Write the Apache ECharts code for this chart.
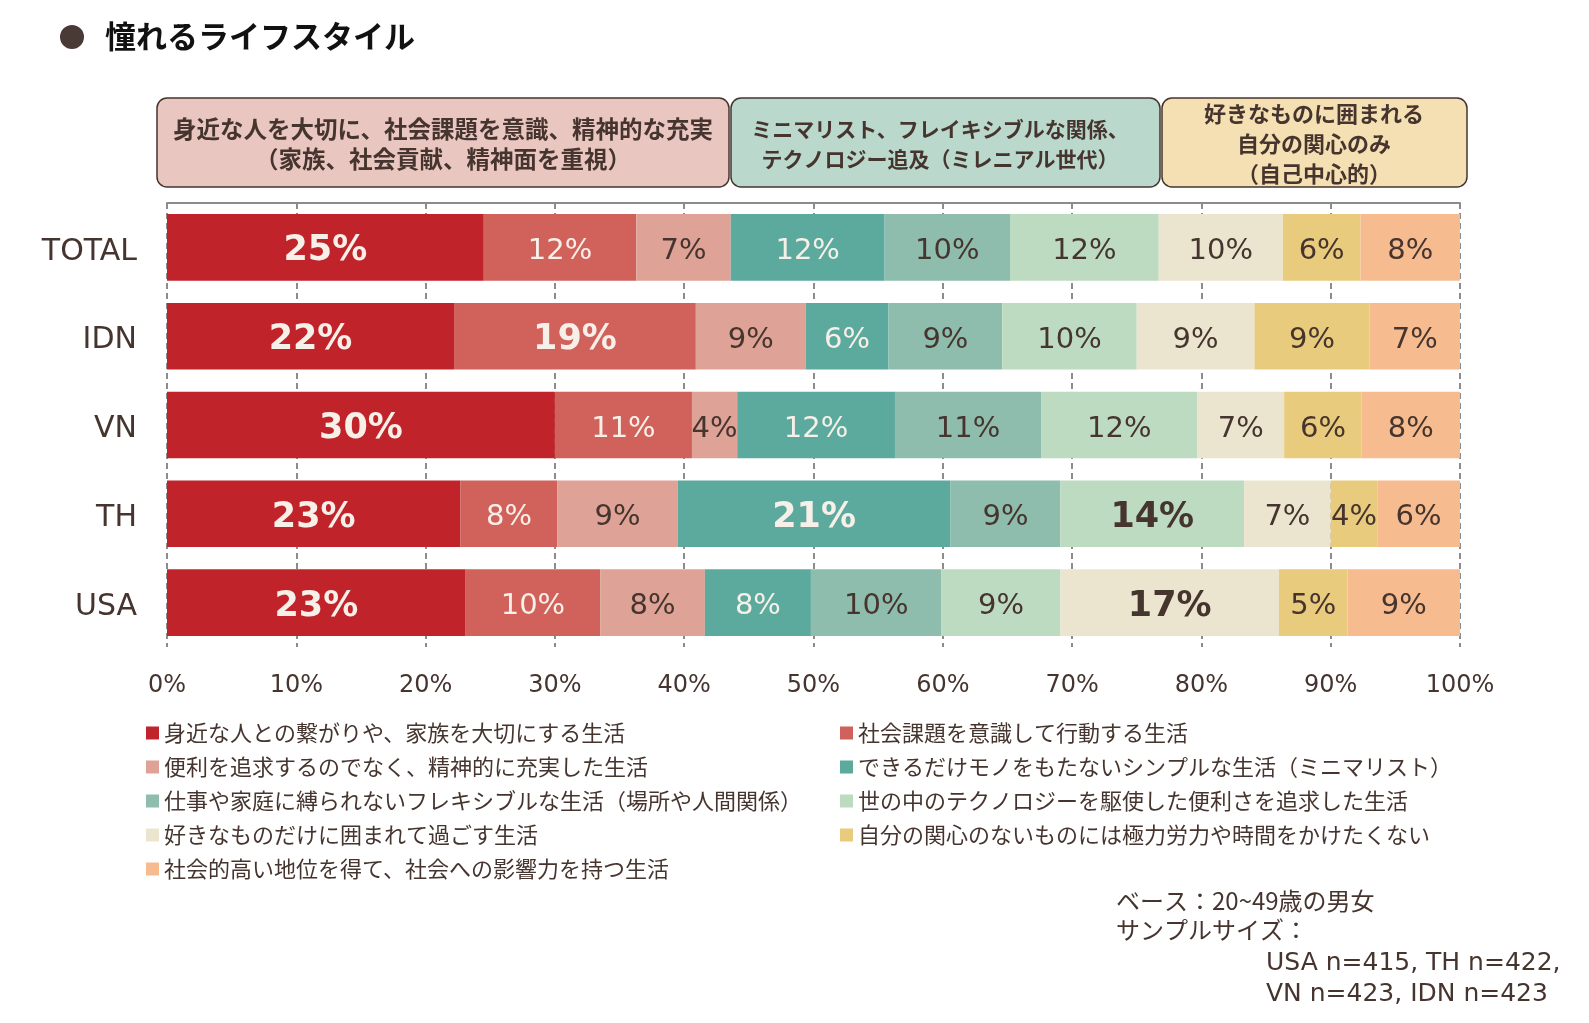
<!DOCTYPE html>
<html>
<head>
<meta charset="utf-8">
<script src="https://cdn.jsdelivr.net/npm/echarts@6/dist/echarts.min.js"></script>
<style>
  html, body { margin: 0; padding: 0; background: #fff; }
  #chart { width: 1589px; height: 1023px; }
</style>
</head>
<body>
<div id="chart"></div>
<script>
const categories = ["TOTAL", "IDN", "VN", "TH", "USA"];

const seriesNames = [
  "身近な人との繋がりや、家族を大切にする生活",
  "社会課題を意識して行動する生活",
  "便利を追求するのでなく、精神的に充実した生活",
  "できるだけモノをもたないシンプルな生活（ミニマリスト）",
  "仕事や家庭に縛られないフレキシブルな生活（場所や人間関係）",
  "世の中のテクノロジーを駆使した便利さを追求した生活",
  "好きなものだけに囲まれて過ごす生活",
  "自分の関心のないものには極力労力や時間をかけたくない",
  "社会的高い地位を得て、社会への影響力を持つ生活",
];

// values per series, in category order (TOTAL, IDN, VN, TH, USA)
const family = [24.5, 22.2, 30.0, 22.7, 23.1];
const socialIssues = [11.8, 18.7, 10.6, 7.5, 10.4];
const spiritual = [7.3, 8.5, 3.5, 9.3, 8.1];
const minimalist = [11.9, 6.4, 12.2, 21.1, 8.2];
const flexible = [9.7, 8.8, 11.3, 8.5, 10.1];
const technology = [11.5, 10.4, 12.1, 14.2, 9.2];
const favorites = [9.6, 9.1, 6.7, 6.7, 16.9];
const noEffort = [6.0, 8.9, 6.0, 3.6, 5.3];
const status = [7.7, 7.0, 7.6, 6.4, 8.7];

const allValues = [family, socialIssues, spiritual, minimalist, flexible, technology, favorites, noEffort, status];

const xTicks = [0, 10, 20, 30, 40, 50, 60, 70, 80, 90, 100];

const colors = ["#c0232a", "#d0615b", "#dea396", "#5ca99d", "#8ebcad", "#bddbc0", "#ebe5cf", "#e9cb7d", "#f6bc8f"];
const lightText = [true, true, false, true, false, false, false, false, false];

const DARK = "#46352f";
const LIGHT = "#f7f0e8";
const LATIN = "'DejaVu Sans', 'Noto Sans CJK JP', sans-serif";
const JP = "'Noto Sans CJK JP', sans-serif";

const chart = echarts.init(document.getElementById("chart"));

const series = allValues.map((vals, i) => ({
  name: seriesNames[i],
  type: "bar",
  stack: "total",
  barCategoryGap: "25%",
  itemStyle: { color: colors[i] },
  data: vals.map((v) => ({
    value: v,
    label: v >= 14 ? { fontWeight: "bold", fontSize: 35 } : {},
  })),
  label: {
    show: true,
    position: "inside",
    offset: [0, 4],
    formatter: (p) => Math.round(p.value) + "%",
    fontFamily: LATIN,
    fontSize: 29,
    color: lightText[i] ? LIGHT : DARK,
  },
}));

const leftLegend = seriesNames.filter((_, i) => i % 2 === 0);
const rightLegend = seriesNames.filter((_, i) => i % 2 === 1);

const legendBase = {
  orient: "vertical",
  icon: "rect",
  itemWidth: 13,
  itemHeight: 13,
  itemGap: 10,
  selectedMode: false,
  textStyle: { fontFamily: JP, fontSize: 22, lineHeight: 24, color: DARK },
};

const boxText = { fontFamily: JP, fontWeight: "bold", lineHeight: 30, fill: DARK, align: "center", verticalAlign: "middle" };

const option = {
  animation: false,
  backgroundColor: "#fff",
  title: {
    text: "憧れるライフスタイル",
    left: 100,
    top: 16,
    textStyle: { fontFamily: JP, fontWeight: "bold", fontSize: 31, color: "#111" },
  },
  grid: { left: 167, right: 129, top: 203, height: 444 },
  xAxis: [
    {
      type: "value",
      min: 0,
      max: 100,
      interval: 10,
      axisLine: { show: false },
      axisTick: { show: false },
      axisLabel: {
        margin: 27,
        formatter: (v) => (xTicks.includes(v) ? v + "%" : ""),
        fontFamily: LATIN,
        fontSize: 24,
        color: DARK,
      },
      splitLine: { show: true, lineStyle: { color: "#8c8c8c", width: 2, type: [6, 4] } },
    },
    {
      type: "value",
      position: "top",
      min: 0,
      max: 100,
      axisLine: { show: true, lineStyle: { color: "#8c8c8c", width: 2 } },
      axisTick: { show: false },
      axisLabel: { show: false },
      splitLine: { show: false },
    },
  ],
  yAxis: {
    type: "category",
    data: categories,
    inverse: true,
    axisLine: { show: false },
    axisTick: { show: false },
    axisLabel: {
      margin: 30,
      formatter: (v) => "{c|" + v + "}",
      rich: { c: { fontFamily: LATIN, fontSize: 30, color: DARK, padding: [9, 0, 0, 0] } },
      fontFamily: LATIN,
      fontSize: 30,
      color: DARK,
    },
  },
  legend: [
    Object.assign({ left: 141, top: 716, data: leftLegend }, legendBase),
    Object.assign({ left: 835, top: 716, data: rightLegend }, legendBase),
  ],
  graphic: [
    { type: "circle", shape: { cx: 72, cy: 37, r: 12 }, style: { fill: "#4a3a35" } },
    {
      type: "rect",
      shape: { x: 157, y: 98, width: 572, height: 89, r: 10 },
      style: { fill: "#e9c6bf", stroke: DARK, lineWidth: 1.5 },
    },
    {
      type: "rect",
      shape: { x: 731, y: 98, width: 429, height: 89, r: 10 },
      style: { fill: "#bad8cc", stroke: DARK, lineWidth: 1.5 },
    },
    {
      type: "rect",
      shape: { x: 1162, y: 98, width: 305, height: 89, r: 10 },
      style: { fill: "#f4e0b2", stroke: DARK, lineWidth: 1.5 },
    },
    {
      type: "text",
      x: 443,
      y: 144,
      style: Object.assign({ text: "身近な人を大切に、社会課題を意識、精神的な充実\n（家族、社会貢献、精神面を重視）", fontSize: 23.5 }, boxText),
    },
    {
      type: "text",
      x: 940,
      y: 144,
      style: Object.assign({ text: "ミニマリスト、フレイキシブルな関係、\nテクノロジー追及（ミレニアル世代）", fontSize: 21 }, boxText),
    },
    {
      type: "text",
      x: 1314,
      y: 144,
      style: Object.assign({ text: "好きなものに囲まれる\n自分の関心のみ\n（自己中心的）", fontSize: 22 }, boxText),
    },
    {
      type: "text",
      x: 1116,
      y: 886,
      style: { text: "ベース：20~49歳の男女\nサンプルサイズ：", fontFamily: JP, fontSize: 24, lineHeight: 29, fill: DARK },
    },
    {
      type: "text",
      x: 1266,
      y: 948,
      style: { text: "USA n=415, TH n=422,\nVN n=423, IDN n=423", fontFamily: LATIN, fontSize: 25, lineHeight: 31, fill: DARK },
    },
  ],
  series: series,
};

chart.setOption(option);
</script>
</body>
</html>
